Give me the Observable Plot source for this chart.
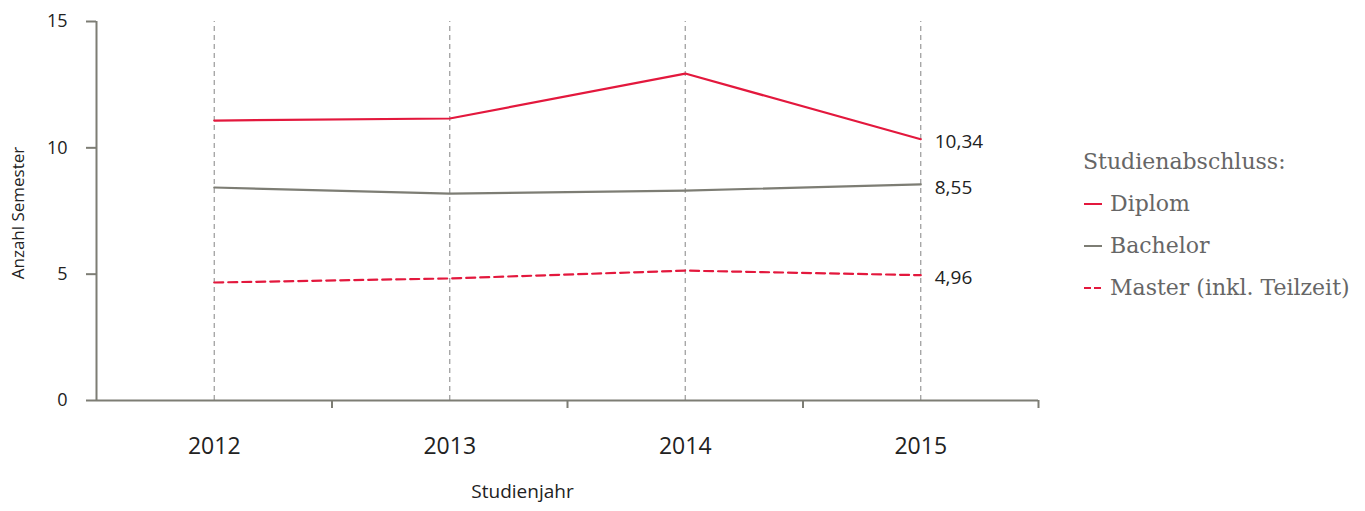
<!DOCTYPE html>
<html>
<head>
<meta charset="utf-8">
<script src="https://cdn.jsdelivr.net/npm/d3@7"></script>
<script src="https://cdn.jsdelivr.net/npm/@observablehq/plot@0.6"></script>
<style>
  html, body { margin: 0; padding: 0; background: #fff; }
  #wrap { position: relative; width: 1365px; height: 511px; }
  #legend { position: absolute; left: 1083px; top: 141px; font-family: "DejaVu Serif", serif; font-size: 22px; color: #666; line-height: 42px; font-weight: 300; }
  #legend .item { display: flex; align-items: center; white-space: nowrap; }
  #legend svg { margin-right: 5px; }
</style>
</head>
<body>
<div id="wrap"><div id="chart"></div><div id="legend"></div></div>
<script>
const years = [2012, 2013, 2014, 2015];
const diplom = [11.08, 11.16, 12.94, 10.34];
const bachelor = [8.43, 8.19, 8.31, 8.55];
const master = [4.67, 4.83, 5.14, 4.96];
const seriesNames = ["Diplom", "Bachelor", "Master (inkl. Teilzeit)"];
const seriesColors = ["#e3183d", "#7d7d74", "#e3183d"];
const seriesDash = [null, null, "9,5"];
const yTicks = [0, 5, 10, 15];
const xDomain = [2011.5, 2015.5];
const bandEdges = [2012.5, 2013.5, 2014.5, 2015.5];

const seriesValues = [diplom, bachelor, master];
const rows = [];
seriesNames.forEach((s, i) => years.forEach((y, j) => rows.push({series: s, year: y, value: seriesValues[i][j]})));
const last = rows.filter(d => d.year === years[years.length - 1]);
const fmt = v => v.toFixed(2).replace(".", ",");

const axisColor = "#7d7d74";
const sans = "'Open Sans', sans-serif";

const plot = Plot.plot({
  width: 1365,
  height: 511,
  marginLeft: 96,
  marginRight: 327,
  marginTop: 21,
  marginBottom: 111,
  style: {fontFamily: sans, color: "#222", background: "#fff"},
  x: {domain: xDomain, axis: null},
  y: {domain: [0, 15], axis: null},
  marks: [
    Plot.ruleX(years, {y1: 0, y2: 15, stroke: "#999", strokeWidth: 1.2, strokeDasharray: "5,4"}),
    ...seriesNames.map((s, i) => Plot.line(rows.filter(d => d.series === s), {
      x: "year", y: "value", stroke: seriesColors[i], strokeWidth: 2.2,
      strokeDasharray: seriesDash[i]
    })),
    Plot.text(last, {x: "year", y: "value", text: d => fmt(d.value), dx: 14, dy: 3, textAnchor: "start", fontSize: 19, fill: "#222"}),
    Plot.ruleY([0], {stroke: axisColor, strokeWidth: 2}),
    Plot.ruleX([xDomain[0]], {stroke: axisColor, strokeWidth: 2}),
    Plot.axisY({ticks: yTicks, tickSize: 10, tickPadding: 19, stroke: axisColor, strokeWidth: 2, fontSize: 18, label: null}),
    Plot.axisX({ticks: years, tickSize: 0, tickPadding: 37, fontSize: 23, label: null, tickFormat: d => String(d)}),
    Plot.axisX({ticks: bandEdges, tickSize: 8, stroke: axisColor, strokeWidth: 2, tickFormat: () => "", label: null}),
    Plot.text(["Studienjahr"], {frameAnchor: "bottom", dx: -45, dy: 97, fontSize: 19, fill: "#222"}),
    Plot.text(["Anzahl Semester"], {frameAnchor: "left", textAnchor: "middle", dx: -78, dy: 2, rotate: -90, fontSize: 17, fill: "#222"})
  ]
});
document.getElementById("chart").appendChild(plot);

const legend = document.getElementById("legend");
const title = document.createElement("div");
title.textContent = "Studienabschluss:";
legend.appendChild(title);
seriesNames.forEach((s, i) => {
  const item = document.createElement("div");
  item.className = "item";
  const dash = seriesDash[i] ? ' stroke-dasharray="7,3"' : "";
  item.innerHTML = `<svg width="22" height="10"><line x1="1" y1="5" x2="19" y2="5" stroke="${seriesColors[i]}" stroke-width="2"${dash}></line></svg><span>${s}</span>`;
  legend.appendChild(item);
});
</script>
</body>
</html>
